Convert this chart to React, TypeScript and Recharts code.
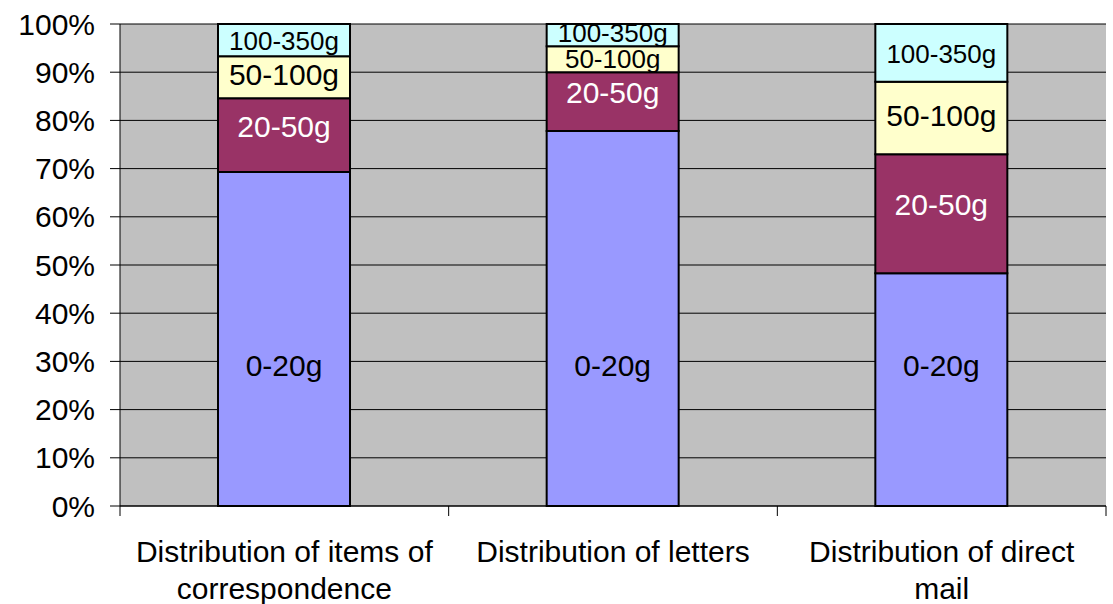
import { BarChart, Bar, XAxis, YAxis, CartesianGrid, LabelList } from 'recharts';

// weight bands for each mail category, percent of items
const categories = [
  'Distribution of items of correspondence',
  'Distribution of letters',
  'Distribution of direct mail',
];
const tickLines = [
  ['Distribution of items of', 'correspondence'],
  ['Distribution of letters'],
  ['Distribution of direct', 'mail'],
];
const band0to20 = [69.3, 77.8, 48.3];
const band20to50 = [15.3, 12.2, 24.7];
const band50to100 = [8.7, 5.4, 15.0];
const band100to350 = [6.7, 4.6, 12.0];

const seriesNames = ['0-20g', '20-50g', '50-100g', '100-350g'];
const seriesKeys = ['g0', 'g1', 'g2', 'g3'];
const seriesColors = ['#9999FF', '#993366', '#FFFFCC', '#CCFFFF'];
const labelColors = ['#000', '#fff', '#000', '#000'];
const yTicks = [0, 10, 20, 30, 40, 50, 60, 70, 80, 90, 100];

const data = categories.map((name, i) => ({
  name,
  g0: band0to20[i],
  g1: band20to50[i],
  g2: band50to100[i],
  g3: band100to350[i],
}));

const FONT = '"Liberation Sans", Arial, sans-serif';

function CategoryTick(props: any) {
  const { x, y, payload, index, width, visibleTicksCount } = props;
  const half = width / visibleTicksCount / 2;
  const lines = tickLines[index] || [payload.value];
  return (
    <g>
      {index === 0 && <line x1={x - half} x2={x - half} y1={y} y2={y + 10} stroke="#000" />}
      <line x1={x + half} x2={x + half} y1={y} y2={y + 10} stroke="#000" />
      <text x={x} y={y} textAnchor="middle" fontSize={30} fontFamily={FONT} fill="#000">
        {lines.map((l: string, i: number) => (
          <tspan key={i} x={x} y={y + 56 + i * 37}>
            {l}
          </tspan>
        ))}
      </text>
    </g>
  );
}

function makeLabel(si: number) {
  return (props: any) => {
    const { x, y, width, height } = props;
    const small = height < 30;
    const fs = si === 3 || small ? 26 : 30;
    let cy = y + height / 2;
    if (si === 0) cy = y + height - 141;
    else if (si === 1) cy -= 9;
    else if (si === 2) cy -= small ? 0 : 3;
    else cy += small ? -2 : 1;
    return (
      <text
        x={x + width / 2}
        y={cy + fs * 0.358}
        textAnchor="middle"
        fontSize={fs}
        fontFamily={FONT}
        fill={labelColors[si]}
      >
        {seriesNames[si]}
      </text>
    );
  };
}

export default function App() {
  return (
    <div style={{ position: 'absolute', left: 0, top: 0, background: '#fff' }}>
      <BarChart
        width={1113}
        height={604}
        data={data}
        margin={{ top: 24, right: 7, left: 0, bottom: 0 }}
      >
        <CartesianGrid
          xAxisId="main"
          yAxisId="left"
          vertical={false}
          fill="#C0C0C0"
          fillOpacity={1}
          stroke="#000"
        />
        <XAxis
          xAxisId="main"
          dataKey="name"
          height={98}
          tickLine={false}
          tickSize={0}
          tickMargin={0}
          interval={0}
          axisLine={{ stroke: '#000' }}
          tick={<CategoryTick />}
        />
        <XAxis xAxisId="top" orientation="top" height={0} tick={false} tickLine={false} axisLine={{ stroke: '#808080' }} />
        <YAxis
          yAxisId="left"
          width={120}
          domain={[0, 100]}
          ticks={yTicks}
          tickFormatter={(v) => `${v}%`}
          tickSize={10}
          tickMargin={15}
          axisLine={{ stroke: '#000' }}
          tickLine={{ stroke: '#000' }}
          tick={{ fontSize: 30, fontFamily: FONT, fill: '#000' }}
          interval={0}
        />
        <YAxis yAxisId="right" orientation="right" width={0} tick={false} tickLine={false} axisLine={{ stroke: '#808080' }} />
        {seriesKeys.map((k, si) => (
          <Bar
            key={k}
            xAxisId="main"
            yAxisId="left"
            dataKey={k}
            stackId="a"
            barSize={132}
            fill={seriesColors[si]}
            stroke="#000"
            strokeWidth={2}
            isAnimationActive={false}
          >
            <LabelList dataKey={k} content={makeLabel(si)} />
          </Bar>
        ))}
      </BarChart>
    </div>
  );
}
